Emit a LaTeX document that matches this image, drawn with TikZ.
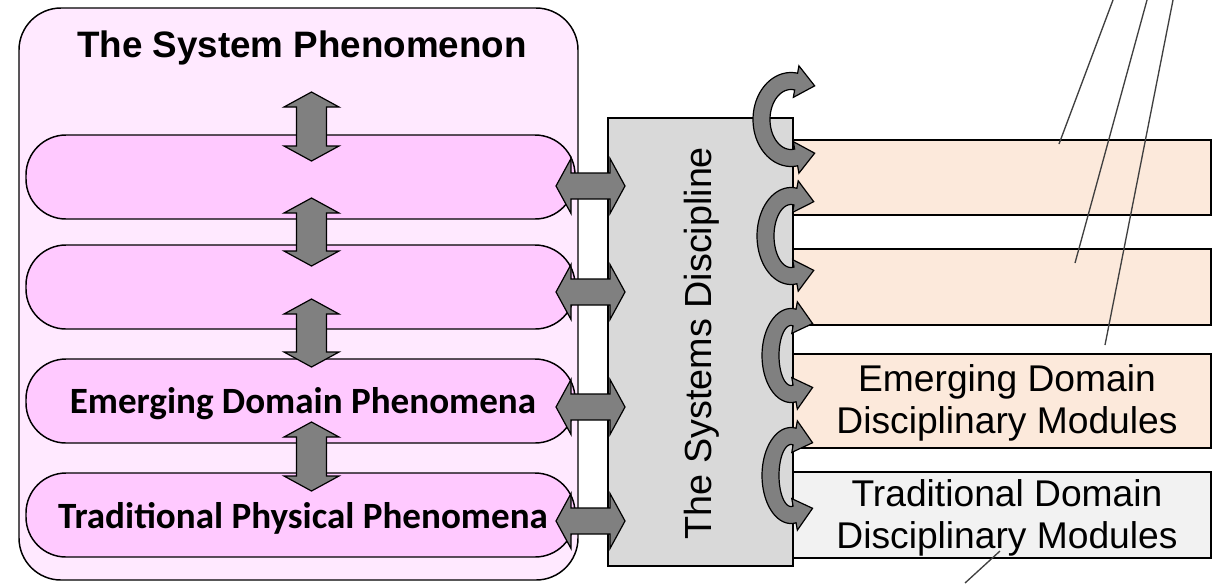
\documentclass[tikz,border=0pt]{standalone}
\usepackage{fontspec}
\setmainfont{Liberation Sans}
\newfontfamily\carlito{Carlito}
\definecolor{outerpink}{RGB}{255,233,255}
\definecolor{pillpink}{RGB}{255,201,255}
\definecolor{discgray}{RGB}{217,217,217}
\definecolor{modorange}{RGB}{252,233,219}
\definecolor{modgray}{RGB}{242,242,242}
\definecolor{arrowgray}{RGB}{128,128,128}
\definecolor{calloutgray}{RGB}{64,64,64}
\newcommand\px{0.75pt}
\tikzset{
  boxline/.style={draw=black, line width=1.1pt},
  outerbox/.style={boxline, fill=outerpink, rounded corners=42*\px, inner sep=0pt, outer sep=0pt},
  pill/.style={boxline, fill=pillpink, rounded corners=40*\px, inner sep=0pt, outer sep=0pt},
  discbox/.style={boxline, fill=discgray, inner sep=0pt, outer sep=0pt},
  modbox/.style={boxline, fill=modorange, inner sep=0pt, outer sep=0pt},
  blockarrow/.style={draw=black, line width=0.9pt, fill=arrowgray, line join=miter},
  callout/.style={draw=calloutgray, line width=1pt},
  txt/.style={inner sep=0pt, outer sep=0pt},
}
\newcommand\varrow[3]{%
  \draw[blockarrow] (#1,#2) -- ({#1+27.5},{#2+15}) -- ({#1+15},{#2+15}) -- ({#1+15},{#3-15})
    -- ({#1+27.5},{#3-15}) -- (#1,#3) -- ({#1-27.5},{#3-15}) -- ({#1-15},{#3-15})
    -- ({#1-15},{#2+15}) -- ({#1-27.5},{#2+15}) -- cycle;}
\newcommand\harrow[3]{%
  \draw[blockarrow] (#1,#3) -- ({#1+15},{#3-27.5}) -- ({#1+15},{#3-13}) -- ({#2-15},{#3-13})
    -- ({#2-15},{#3-27.5}) -- (#2,#3) -- ({#2-15},{#3+27.5}) -- ({#2-15},{#3+13})
    -- ({#1+15},{#3+13}) -- ({#1+15},{#3+27.5}) -- cycle;}
% curved double arrow: centre x, centre y, mid radius x, mid radius y
\newcommand\carrow[4]{%
  \pgfmathsetmacro\qcx{#1}\pgfmathsetmacro\qcy{#2}%
  \pgfmathsetmacro\qrx{#3}\pgfmathsetmacro\qry{#4}%
  \pgfmathsetmacro\qca{cos(80)}\pgfmathsetmacro\qsa{sin(80)}%
  \pgfmathsetmacro\qdx{\qrx*\qsa}\pgfmathsetmacro\qdy{\qry*\qca}%
  \pgfmathsetmacro\qdn{sqrt(\qdx*\qdx+\qdy*\qdy)}%
  \pgfmathsetmacro\qux{\qdx/\qdn}\pgfmathsetmacro\quy{\qdy/\qdn}%
  \pgfmathsetmacro\qmx{\qcx+\qrx*\qca}%
  \pgfmathsetmacro\qmby{\qcy+\qry*\qsa}\pgfmathsetmacro\qmty{\qcy-\qry*\qsa}%
  \draw[blockarrow] plot[domain=280:80, samples=50] ({\qcx+(\qrx+8.5)*cos(\x)},{\qcy+(\qry+8.5)*sin(\x)})
    -- ({\qmx+16*\qca},{\qmby+16*\qsa}) -- ({\qmx+19*\qux},{\qmby-19*\quy}) -- ({\qmx-16*\qca},{\qmby-16*\qsa})
    -- plot[domain=80:280, samples=50] ({\qcx+(\qrx-8.5)*cos(\x)},{\qcy+(\qry-8.5)*sin(\x)})
    -- ({\qmx-16*\qca},{\qmty+16*\qsa}) -- ({\qmx+19*\qux},{\qmty+19*\quy}) -- ({\qmx+16*\qca},{\qmty-16*\qsa})
    -- cycle;}
\begin{document}
\begin{tikzpicture}[x=0.75pt, y=-0.75pt]
\useasboundingbox (0,0) rectangle (1223,583);
% left: system phenomenon
\node[outerbox, minimum width=559*\px, minimum height=572*\px] (sys) at (298.5,294) {};
\node[txt, anchor=base, font=\bfseries\fontsize{27.6pt}{33pt}\selectfont] (title) at (302,57) {The System Phenomenon};
\node[pill, minimum width=549*\px, minimum height=84*\px] (p1) at (300.5,177) {};
\node[pill, minimum width=549*\px, minimum height=84*\px] (p2) at (300.5,287) {};
\node[pill, minimum width=549*\px, minimum height=84*\px] (p3) at (300.5,401) {};
\node[pill, minimum width=549*\px, minimum height=84*\px] (p4) at (300.5,515) {};
% discipline
\node[discbox, minimum width=185*\px, minimum height=448*\px] (disc) at (700.5,342) {};
\node[txt, rotate=90, anchor=base, font=\fontsize{28.3pt}{33pt}\selectfont] (disctext) at (711,343) {The Systems Discipline};
% modules
\node[modbox, minimum width=418*\px, minimum height=75*\px] (m1) at (1002,177.5) {};
\node[modbox, minimum width=418*\px, minimum height=76*\px] (m2) at (1002,287) {};
\node[modbox, minimum width=418*\px, minimum height=94*\px] (m3) at (1002,401) {};
\node[modbox, fill=modgray, minimum width=418*\px, minimum height=86*\px] (m4) at (1002,515) {};
\node[txt, align=center, font=\fontsize{27.9pt}{31.5pt}\selectfont] (m3t) at (1007,403) {Emerging Domain\\Disciplinary Modules};
\node[txt, align=center, font=\fontsize{27.9pt}{31.5pt}\selectfont] (m4t) at (1007,518) {Traditional Domain\\Disciplinary Modules};
% vertical arrows
\varrow{311.5}{92}{161}
\varrow{311.5}{198}{266}
\varrow{311.5}{299}{367}
\varrow{311.5}{422}{491}
% horizontal arrows
\harrow{556}{625}{186}
\harrow{556}{625}{292}
\harrow{556}{625}{407}
\harrow{556}{625}{521}
% pill texts
\node[txt, anchor=base, font=\carlito\bfseries\fontsize{27.8pt}{33pt}\selectfont] (p3t) at (303,413) {Emerging Domain Phenomena};
\node[txt, anchor=base, font=\carlito\bfseries\fontsize{27.8pt}{33pt}\selectfont] (p4t) at (303,528) {Traditional Physical Phenomena};
% curved arrows
\carrow{791}{119.5}{29.5}{38.5}
\carrow{791}{236}{25.5}{40}
\carrow{791}{355.5}{20.5}{38.5}
\carrow{791}{475.5}{20.5}{39.5}
% callout lines
\coordinate (ca1) at (1059,144); \coordinate (ca2) at (1113,0);
\coordinate (cb1) at (1075,263); \coordinate (cb2) at (1147,0);
\coordinate (cc1) at (1105,345); \coordinate (cc2) at (1173,0);
\coordinate (cd1) at (1000,551); \coordinate (cd2) at (965,583);
\draw[callout] (ca1) -- (ca2);
\draw[callout] (cb1) -- (cb2);
\draw[callout] (cc1) -- (cc2);
\draw[callout] (cd1) -- (cd2);
\end{tikzpicture}
\end{document}
